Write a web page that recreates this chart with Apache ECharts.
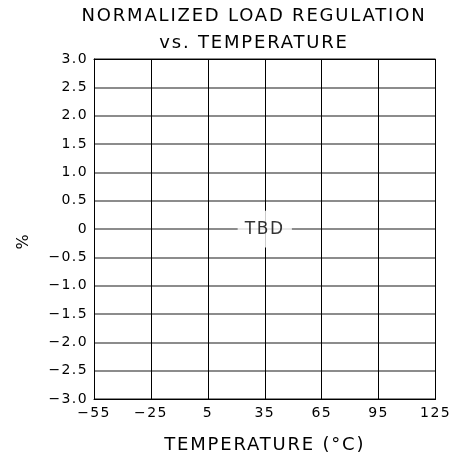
<!DOCTYPE html>
<html><head><meta charset="utf-8">
<script src="https://cdn.jsdelivr.net/npm/echarts@6/dist/echarts.min.js"></script>
<style>html,body{margin:0;padding:0;background:#fff}#c{width:454px;height:460px}</style>
</head><body><div id="c"></div>
<script>
const xTicks = ['−55','−25','5','35','65','95','125'];
const yMin = -3.0, yMax = 3.0, yStep = 0.5;
const noteX = '35';
const noteY = 0;
const noteText = 'TBD';
const titleText = 'NORMALIZED LOAD REGULATION\nvs. TEMPERATURE';
const xName = 'TEMPERATURE (°C)';
const yName = '%';

// wide tracking like the plotter font of the original
const LS_EM = 0.1;
(function(){
  const P = CanvasRenderingContext2D.prototype;
  if(!('letterSpacing' in P)) return;
  function ls(ctx){ const m=/(\d+(?:\.\d+)?)px/.exec(ctx.font); ctx.letterSpacing = m ? (parseFloat(m[1])*LS_EM).toFixed(2)+'px' : '0px'; }
  const f=P.fillText, s=P.strokeText, mt=P.measureText;
  P.fillText=function(){ ls(this); return f.apply(this,arguments); };
  P.strokeText=function(){ ls(this); return s.apply(this,arguments); };
  P.measureText=function(){ ls(this); return mt.apply(this,arguments); };
})();

const FONT = 'DejaVu Sans';
const chart = echarts.init(document.getElementById('c'), null, {renderer:'canvas'});
chart.setOption({
  backgroundColor:'#fff',
  animation:false,
  title:{text:titleText,left:249,top:-2,textAlign:'center',
    textStyle:{fontFamily:FONT,fontSize:18,fontWeight:'normal',color:'#000',lineHeight:27}},
  grid:{left:94,top:59,width:343,height:342,containLabel:false},
  xAxis:[{type:'category',data:xTicks,boundaryGap:false,
    name:xName,nameLocation:'middle',nameGap:36,
    nameTextStyle:{fontFamily:FONT,fontSize:18,color:'#000'},
    axisLine:{onZero:false,lineStyle:{color:'#000',width:1}},axisTick:{show:false},
    axisLabel:{fontFamily:FONT,fontSize:14,color:'#000',margin:6},
    splitLine:{show:true,lineStyle:{color:'#000',width:1}},z:3},
   {type:'category',data:xTicks,boundaryGap:false,position:'top',
    axisLine:{show:true,onZero:false,lineStyle:{color:'#000',width:1}},axisTick:{show:false},
    axisLabel:{show:false},splitLine:{show:false},z:3}],
  yAxis:{type:'value',min:yMin,max:yMax,interval:yStep,
    name:yName,nameLocation:'middle',nameGap:61,nameRotate:90,
    nameTextStyle:{fontFamily:FONT,fontSize:16,color:'#000',padding:[0,24,0,0]},
    axisLine:{show:true,onZero:false,lineStyle:{color:'#000',width:1}},axisTick:{show:false},
    axisLabel:{fontFamily:FONT,fontSize:14,color:'#000',margin:6,
      formatter:v=>{ if(Math.abs(v)<1e-9) return '0'; const s=Math.abs(v).toFixed(1); return (v<0?'−':'')+s; }},
    splitLine:{show:true,lineStyle:{color:'#8c8c8c',width:2}}},
  series:[{type:'scatter',data:[[noteX,noteY]],symbolSize:0,silent:true,z:10,
    label:{show:true,position:'inside',formatter:noteText,fontFamily:FONT,fontSize:17,color:'#000',
      backgroundColor:'#fff',padding:[8,7,10,7]}}]
});
</script></body></html>
